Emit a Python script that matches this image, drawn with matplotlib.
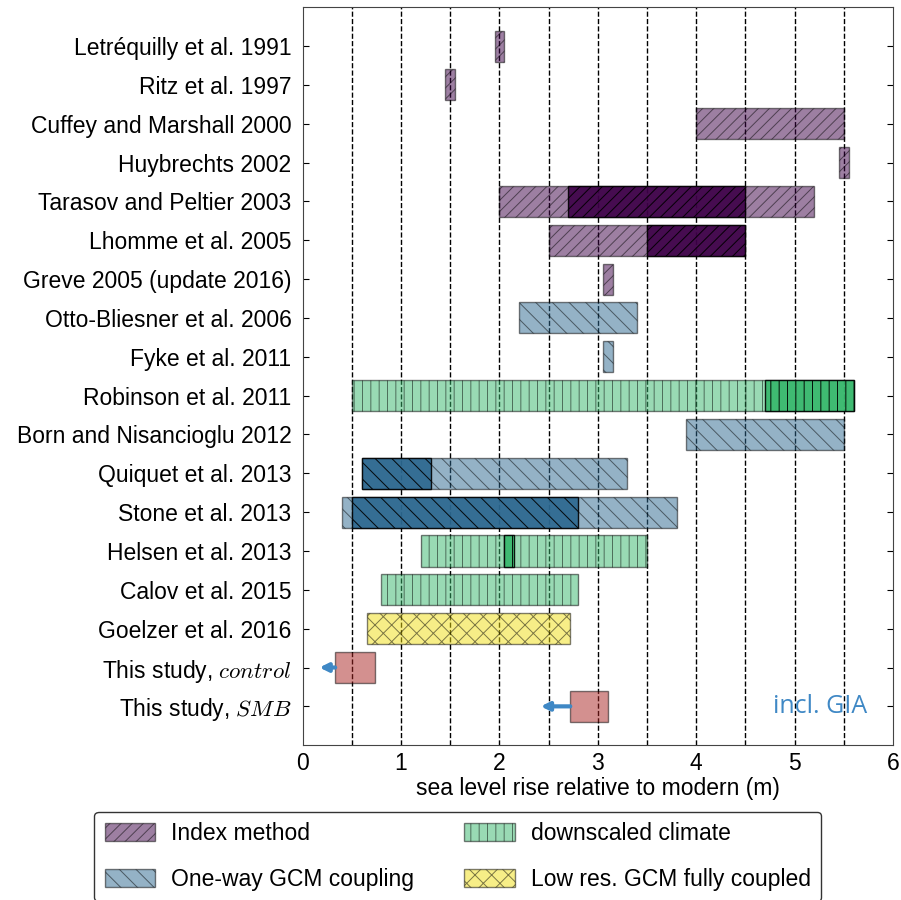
import numpy as np
import matplotlib
matplotlib.use("Agg")
import matplotlib.pyplot as plt
from matplotlib.patches import Patch

plt.rcParams['font.family'] = ['Liberation Sans', 'DejaVu Sans']
plt.rcParams['mathtext.fontset'] = 'cm'
plt.rcParams['hatch.linewidth'] = 0.7
plt.rcParams['hatch.color'] = 'k'

# studies, top to bottom
studies = ['Letréquilly et al. 1991', 'Ritz et al. 1997', 'Cuffey and Marshall 2000',
           'Huybrechts 2002', 'Tarasov and Peltier 2003', 'Lhomme et al. 2005',
           'Greve 2005 (update 2016)', 'Otto-Bliesner et al. 2006', 'Fyke et al. 2011',
           'Robinson et al. 2011', 'Born and Nisancioglu 2012', 'Quiquet et al. 2013',
           'Stone et al. 2013', 'Helsen et al. 2013', 'Calov et al. 2015',
           'Goelzer et al. 2016', 'This study, $control$', 'This study, $SMB$']
method = ['index', 'index', 'index', 'index', 'index', 'index', 'index',
          'oneway', 'oneway', 'down', 'oneway', 'oneway', 'oneway', 'down', 'down',
          'lowres', 'this', 'this']
# full range (m)
lo = [1.95, 1.45, 4.0, 5.45, 2.0, 2.5, 3.05, 2.2, 3.05, 0.5, 3.9, 0.6, 0.4, 1.2, 0.8,
      0.65, 0.33, 2.72]
hi = [2.05, 1.55, 5.5, 5.55, 5.2, 4.5, 3.15, 3.4, 3.15, 5.6, 5.5, 3.3, 3.8, 3.5, 2.8,
      2.72, 0.73, 3.1]
# preferred / best range (dark), None if absent
best_lo = [None, None, None, None, 2.7, 3.5, None, None, None, 4.7, None, 0.6, 0.5, 2.05,
           None, None, None, None]
best_hi = [None, None, None, None, 4.5, 4.5, None, None, None, 5.6, None, 1.3, 2.8, 2.15,
           None, None, None, None]
# GIA arrows for this study (start, tip)
gia_start = [0.33, 2.72]
gia_tip = [0.17, 2.42]

colors = {'index': '#3d0047', 'oneway': '#2b678f', 'down': '#35b76b',
          'lowres': '#f1df11', 'this': '#a92321'}
hatches = {'index': '///', 'oneway': '\\\\', 'down': '||', 'lowres': 'xx', 'this': None}
legend_names = [('index', 'Index method'), ('oneway', 'One-way GCM coupling'),
                ('down', 'downscaled climate'), ('lowres', 'Low res. GCM fully coupled')]

fs = 16.5
fig = plt.figure(figsize=(9.01, 9.0), dpi=100)
ax = fig.add_axes([0.336, 0.172, 0.655, 0.82])

for v in np.arange(0.5, 6, 0.5):
    ax.axvline(v, color='k', ls='--', lw=1, zorder=0)

y = np.arange(1, len(studies) + 1)
for i in range(len(studies)):
    m = method[i]
    ax.barh(y[i], hi[i] - lo[i], left=lo[i], height=0.8, color=colors[m], alpha=0.5,
            edgecolor='k', lw=1, hatch=hatches[m], zorder=2)
    if best_lo[i] is not None:
        ax.barh(y[i], best_hi[i] - best_lo[i], left=best_lo[i], height=0.8,
                color=colors[m], alpha=0.9, edgecolor='k', lw=1, hatch=hatches[m], zorder=3)

for k in range(2):
    ax.annotate('', xy=(gia_tip[k], y[16 + k]), xytext=(gia_start[k], y[16 + k]),
                arrowprops=dict(arrowstyle='-|>', color='#3f88c5', lw=3,
                                mutation_scale=12, shrinkA=0, shrinkB=0), zorder=4)
ax.text(5.26, 18.0, 'incl. GIA', color='#3f88c5', fontsize=18, ha='center', va='center',
        family='Open Sans')

ax.set_xlim(0, 6)
ax.set_ylim(19, 0)
ax.set_yticks(y)
ax.set_yticklabels(studies, fontsize=fs)
ax.set_xticks(range(7))
ax.tick_params(axis='x', labelsize=fs, direction='in', top=False, length=0, pad=5)
ax.tick_params(axis='y', direction='in', right=True, length=4, pad=8)
ax.set_xlabel('sea level rise relative to modern (m)', fontsize=fs, labelpad=1)
for s in ax.spines.values():
    s.set_color('#444444')

handles = [Patch(facecolor=colors[k], alpha=0.5, edgecolor='k', hatch=hatches[k])
           for k, _ in legend_names]
fig.legend(handles, [n for _, n in legend_names], loc='upper center',
           bbox_to_anchor=(0.508, 0.098), ncol=2, fontsize=fs, frameon=True,
           fancybox=True, edgecolor='k', handlelength=2.2, handleheight=0.8,
           labelspacing=1.0, columnspacing=2.2, handletextpad=0.7, borderpad=0.45,
           borderaxespad=0)

fig.savefig('out.png', dpi=100)
